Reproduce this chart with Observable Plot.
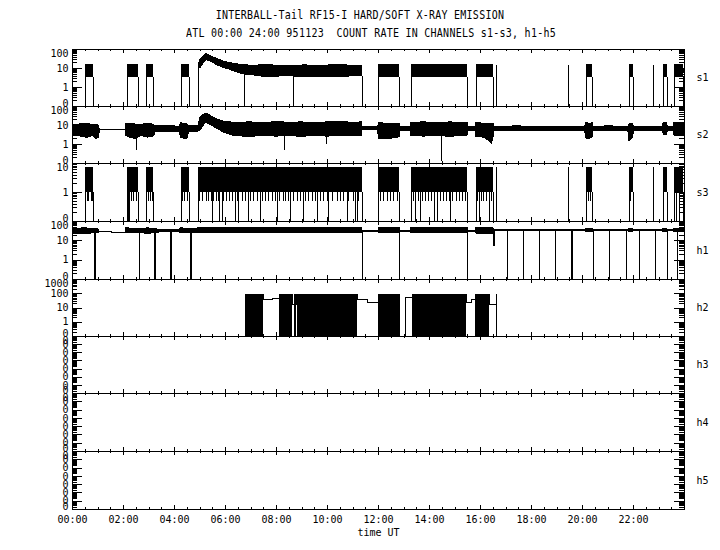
<!DOCTYPE html>
<html>
<head>
<meta charset="utf-8">
<script src="https://cdn.jsdelivr.net/npm/d3@7"></script>
<script src="https://cdn.jsdelivr.net/npm/@observablehq/plot@0.6"></script>
<style>
  html, body { margin: 0; padding: 0; background: #fff; }
  #fig { position: relative; width: 720px; height: 550px; overflow: hidden; background: #fff; color: #000;
         font-family: "DejaVu Sans Mono", monospace; }
  .ttl { position: absolute; left: 0; width: 720px; text-align: center; font-size: 10px; line-height: 12px;
         letter-spacing: 0.25px; white-space: pre; transform: scaleY(1.3); }
  #fig svg { position: absolute; left: 0; }
</style>
</head>
<body>
<div id="fig">
  <div class="ttl" id="title" style="top:9px"></div>
  <div class="ttl" id="subtitle" style="top:27px; padding-left:22px; width:698px;"></div>
</div>
<script>
// ---------- text ----------
const titleText = "INTERBALL-Tail RF15-I HARD/SOFT X-RAY EMISSION";
const subtitleText = "ATL 00:00 24:00 951123  COUNT RATE IN CHANNELS s1-s3, h1-h5";
const xLabelText = "time UT";

// ---------- axes ----------
const panelNames = ["s1", "s2", "s3", "h1", "h2", "h3", "h4", "h5"];
const panelDomains = [[0.1, 100], [0.1, 100], [0.1, 10], [0.1, 100], [0.1, 1000], [1e-8, 0.1], [1e-8, 0.1], [1e-8, 0.1]];
const majorHours = [0, 2, 4, 6, 8, 10, 12, 14, 16, 18, 20, 22];
const majorLabels = ["00:00", "02:00", "04:00", "06:00", "08:00", "10:00", "12:00", "14:00", "16:00", "18:00", "20:00", "22:00"];
const minorHours = [0.5, 1, 1.5, 2.5, 3, 3.5, 4.5, 5, 5.5, 6.5, 7, 7.5, 8.5, 9, 9.5, 10.5, 11, 11.5, 12.5, 13, 13.5,
  14.5, 15, 15.5, 16.5, 17, 17.5, 18.5, 19, 19.5, 20.5, 21, 21.5, 22.5, 23, 23.5];

// ---------- s1 ----------
const s1Level = [3.3, 16];
const s1Blocks = [[0.51, 0.84], [2.17, 2.60], [2.90, 3.19], [4.26, 4.58], [12.01, 12.84], [13.29, 15.50],
  [15.83, 16.52], [20.15, 20.40], [21.84, 21.99], [23.19, 23.32], [23.61, 23.96]];
const s1Flare = [[4.95, 10, 15], [5.02, 10.5, 28], [5.15, 20, 46], [5.25, 28, 56], [5.41, 24, 46], [5.54, 19, 38],
  [5.67, 15, 32], [5.93, 10.5, 23], [6.2, 8.5, 19], [6.33, 7, 18], [6.59, 5.5, 15.5], [6.85, 4.6, 14.5],
  [7.11, 4.3, 14], [7.6, 3.5, 15], [8.16, 3.8, 13.8], [8.6, 3.9, 13.5], [9.1, 3.4, 14.5], [9.8, 3.7, 13.8],
  [10.3, 3.5, 15], [10.9, 3.8, 14.2], [11.36, 3.8, 14]];
const s1Spikes = [6.76, 8.68, 16.63, 19.46, 22.77];

// ---------- s2 ----------
const s2Env = [
  [0.03, 3.0, 10.5], [0.35, 2.6, 11.5], [0.6, 2.2, 12.5], [0.8, 2.9, 10], [0.95, 1.9, 11], [1.05, 2.4, 9],
  [1.07, 5.8, 5.8], [2.08, 5.8, 5.8],
  [2.09, 2.8, 11.5], [2.3, 2.2, 12.5], [2.5, 1.9, 11], [2.7, 2.9, 10.5], [2.95, 2.3, 12.5], [3.2, 2.7, 11],
  [3.25, 4.4, 9.1], [4.2, 4.6, 8.8],
  [4.26, 2.1, 13], [4.5, 2.0, 12], [4.58, 4.4, 9], [4.94, 4.8, 9.5],
  [5.02, 5.5, 25.7], [5.15, 10, 36], [5.25, 14, 42], [5.4, 11, 33], [5.54, 8.5, 26], [5.75, 6, 19],
  [5.93, 4.2, 16], [6.33, 2.8, 14], [7.0, 2.5, 14.5], [7.5, 2.9, 13.5], [8.0, 2.6, 15], [8.5, 2.8, 14],
  [9.0, 2.5, 14.5], [9.5, 2.9, 13.5], [10.0, 2.6, 14.5], [10.5, 2.8, 15], [11.0, 2.7, 14], [11.35, 2.8, 14.5],
  [11.37, 5.5, 8.2], [11.99, 5.5, 8.2],
  [12.01, 2.0, 13], [12.4, 1.9, 12.5], [12.83, 2.4, 12],
  [12.85, 5.4, 8.4], [13.28, 5.4, 8.4],
  [13.29, 2.8, 14], [13.8, 2.6, 14.5], [14.3, 2.9, 13.5], [14.8, 2.5, 14.5], [15.2, 2.8, 14], [15.49, 2.7, 14],
  [15.5, 5.4, 8.5], [15.8, 5.4, 8.5],
  [15.83, 2.6, 13], [16.2, 2.2, 12.5], [16.45, 1.05, 12], [16.52, 2.5, 12],
  [16.55, 5.2, 8.7], [17.5, 5.0, 8.9], [18.5, 5.3, 8.5], [19.5, 5.1, 8.8], [20.1, 5.2, 8.7],
  [20.15, 2.1, 14], [20.28, 1.9, 12], [20.4, 2.4, 13],
  [20.42, 5.2, 8.7], [21.0, 5.0, 8.9], [21.8, 5.2, 8.7],
  [21.84, 1.55, 11.5], [21.99, 2.2, 12],
  [22.01, 5.2, 8.7], [23.15, 5.1, 8.8],
  [23.19, 3.2, 14], [23.32, 3.3, 13],
  [23.34, 5.2, 8.7], [23.58, 5.2, 8.7],
  [23.61, 2.9, 14], [23.99, 3.0, 13]
];
const s2Spikes = [[2.52, 0.47], [8.33, 0.47], [9.95, 1.04], [14.47, 0.12]];

// ---------- s3 ----------
const s3Level = [1, 7.4];
const s3Blocks = [[0.51, 0.84], [2.17, 2.60], [2.90, 3.19], [4.26, 4.58], [4.95, 11.36], [12.01, 12.84],
  [13.29, 15.50], [15.83, 16.52], [20.15, 20.40], [21.84, 21.99], [23.19, 23.32], [23.61, 23.96]];
const s3Spikes = [16.63, 19.46, 22.77];
const s3HalfDips = [0.58, 0.64, 0.73, 0.79, 2.33, 2.41, 2.5, 2.97, 3.05, 3.12, 4.33, 4.41, 4.50,
  4.99, 5.09, 5.25, 5.34, 5.44, 5.54, 5.65, 5.74, 5.93, 6.04, 6.17, 6.26, 6.46, 6.65, 6.78, 6.98, 7.11, 7.24,
  7.44, 7.57, 7.70, 7.83, 7.96, 8.13, 8.26, 8.35, 8.48, 8.68, 8.81, 8.94, 9.14, 9.27, 9.40, 9.53, 9.72, 9.85,
  9.99, 10.18, 10.38, 10.51, 10.64, 10.84, 11.03, 11.23,
  12.08, 12.21, 12.34, 12.47, 12.60, 12.73,
  13.36, 13.47, 13.58, 13.72, 13.83, 13.95, 14.06, 14.19, 14.30, 14.44, 14.56, 14.67, 14.79, 14.92, 15.04,
  15.16, 15.28, 15.41, 15.90, 16.02, 16.13, 16.25, 16.44, 20.22, 20.31, 21.9];
const s3ZeroDips = [2.18, 2.24, 5.48, 5.78, 5.87, 6.39, 6.52, 6.91, 7.37, 8.03, 8.55, 9.07, 9.60, 10.05, 10.77,
  11.10, 11.17, 13.45, 13.65, 14.21, 14.33, 14.82, 15.96, 16.36, 23.7, 23.8];

// ---------- h1 ----------
const h1Env = [
  [0, 24, 42], [0.5, 23, 44], [1.02, 25, 40],
  [1.03, 29, 29], [1.55, 29, 29], [1.56, 25.7, 25.7], [2.08, 25.7, 25.7],
  [2.09, 24, 44], [2.6, 25, 42], [3.0, 23, 44], [3.5, 28, 36], [4.2, 27, 38], [4.26, 24, 44], [4.6, 25, 42],
  [5.0, 24, 44], [6, 24, 45], [7, 25, 44], [8, 24, 45], [9, 25, 44], [10, 24, 46], [11.36, 24, 45],
  [11.37, 29, 34], [12.0, 29, 34], [12.01, 24, 45], [12.84, 24, 45], [12.85, 29, 34], [13.28, 29, 34],
  [13.29, 24, 46], [15.5, 24, 45], [15.51, 29, 34], [15.82, 29, 34], [15.83, 24, 45], [16.5, 22, 45],
  [16.55, 31, 37], [20.1, 31, 37], [20.15, 27, 42], [20.4, 27, 42], [20.42, 31, 37], [21.8, 31, 37],
  [21.84, 28, 41], [21.99, 28, 41], [22.01, 31, 37], [23.15, 31, 37], [23.19, 27, 42], [23.32, 28, 41],
  [23.34, 31, 37], [23.58, 31, 37], [23.61, 27, 42], [24, 28, 41]
];
const h1Drops = [2.64, 11.38, 12.84, 15.50, 17.07, 17.70, 18.33, 18.95, 20.44, 21.07, 21.71, 22.24, 22.86, 23.32, 23.74];
const h1WideDrops = [0.90, 3.25, 3.88, 4.65, 19.60];
const h1Dip = [[16.52, 5.2]];

// ---------- h2 ----------
const h2Steps = [[6.78, 0], [6.78, 95], [7.48, 37.5], [7.83, 49], [8.13, 95], [8.62, 16.8], [8.71, 95],
  [8.77, 16.8], [8.84, 95], [11.16, 42], [11.56, 26], [12.01, 95], [12.81, 0], [13.06, 52], [13.32, 95],
  [15.45, 26], [15.64, 37.5], [15.82, 95], [16.34, 16.8], [16.63, 83], [16.63, 0]];

// ---------- drawing ----------
document.getElementById("title").textContent = titleText;
document.getElementById("subtitle").textContent = subtitleText;

const X0 = 72, X1 = 684, W = 720, PW = X1 - X0;
const frameRows = [49, 106, 163, 221, 279, 336, 393, 451, 509];
const crisp = "crispEdges";
const fig = document.getElementById("fig");

function blockMarks(blocks, level, y) {
  return [
    Plot.rect(blocks, {x1: d => d[0], x2: d => d[1], y1: () => level[0], y2: () => level[1], fill: "black", shapeRendering: crisp}),
    Plot.ruleX(blocks.flat(), {x: d => d, y1: () => y(0), y2: () => level[0], stroke: "black", shapeRendering: crisp})
  ];
}
function envMarks(env, y) {
  return [
    Plot.areaY(env, {x: d => d[0], y1: d => y(d[1]), y2: d => y(d[2]), fill: "black", stroke: "black", strokeWidth: 1, shapeRendering: crisp}),
    Plot.line(env, {x: d => d[0], y: d => Math.sqrt(d[1] * d[2]), stroke: "black", strokeWidth: 1, shapeRendering: crisp})
  ];
}

const panelMarks = [
  // s1
  (y) => [
    ...blockMarks(s1Blocks, s1Level, y),
    Plot.areaY(s1Flare, {x: d => d[0], y1: d => d[1], y2: d => d[2], fill: "black", stroke: "black", strokeWidth: 1, shapeRendering: crisp}),
    Plot.ruleX([s1Flare[0], s1Flare[s1Flare.length - 1]], {x: d => d[0], y1: () => y(0), y2: d => d[1], stroke: "black", shapeRendering: crisp}),
    Plot.ruleX(s1Spikes, {x: d => d, y1: () => y(0), y2: () => s1Level[1] * 0.9, stroke: "black", shapeRendering: crisp})
  ],
  // s2
  (y) => [
    ...envMarks(s2Env, y),
    Plot.ruleX(s2Spikes, {x: d => d[0], y1: d => y(d[1]), y2: () => 6, stroke: "black", shapeRendering: crisp})
  ],
  // s3
  (y) => [
    ...blockMarks(s3Blocks, s3Level, y),
    Plot.ruleX(s3HalfDips, {x: d => d, y1: () => 0.5, y2: () => s3Level[0], stroke: "black", shapeRendering: crisp}),
    Plot.ruleX(s3ZeroDips, {x: d => d, y1: () => y(0), y2: () => s3Level[0], stroke: "black", shapeRendering: crisp}),
    Plot.ruleX(s3Spikes, {x: d => d, y1: () => y(0), y2: () => s3Level[1], stroke: "black", shapeRendering: crisp})
  ],
  // h1
  (y) => [
    ...envMarks(h1Env, y),
    Plot.ruleX(h1Drops, {x: d => d, y1: () => y(0), y2: () => 32, stroke: "black", shapeRendering: crisp}),
    Plot.ruleX(h1WideDrops, {x: d => d, y1: () => y(0), y2: () => 32, stroke: "black", strokeWidth: 2, shapeRendering: crisp}),
    Plot.ruleX(h1Dip, {x: d => d[0], y1: d => d[1], y2: () => 32, stroke: "black", strokeWidth: 2, shapeRendering: crisp})
  ],
  // h2
  (y) => {
    const blocks = [];
    h2Steps.forEach((d, i) => { if (d[1] >= 90 && i + 1 < h2Steps.length) blocks.push([d[0], h2Steps[i + 1][0], d[1]]); });
    return [
      Plot.rect(blocks, {x1: d => d[0], x2: d => d[1], y1: () => y(0), y2: d => d[2], fill: "black", shapeRendering: crisp}),
      Plot.line(h2Steps, {x: d => d[0], y: d => y(d[1]), curve: "step-after", stroke: "black", strokeWidth: 1, shapeRendering: crisp})
    ];
  },
  () => [], () => [], () => []
];

panelNames.forEach((name, i) => {
  const dom = panelDomains[i];
  const y = v => Math.max(v, dom[0]);
  const H = frameRows[i + 1] - frameRows[i];
  const last = i === panelNames.length - 1;
  const mt = 20, mb = last ? 45 : 20;
  const e0 = Math.round(Math.log10(dom[0])), e1 = Math.round(Math.log10(dom[1]));
  const decades = d3.range(e0, e1 + 1).map(e => Math.pow(10, e));
  const minors = d3.scaleLog().domain(dom).ticks()
    .filter(t => Math.abs(Math.log10(t) - Math.round(Math.log10(t))) > 1e-6);
  const fmt = v => v < 1 ? "0" : String(Math.round(v));
  const ylab = (vals, anchor) => Plot.text(vals, {y: d => d, frameAnchor: "left", dx: -4, textAnchor: "end", lineAnchor: anchor, text: fmt, fill: "black"});

  const marks = [
    ...panelMarks[i](y),
    Plot.tickY(decades, {y: d => d, insetRight: PW - 10, stroke: "black", shapeRendering: crisp}),
    Plot.tickY(decades, {y: d => d, insetLeft: PW - 10, stroke: "black", shapeRendering: crisp}),
    Plot.tickY(minors, {y: d => d, insetRight: PW - 5, stroke: "black", shapeRendering: crisp}),
    Plot.tickY(minors, {y: d => d, insetLeft: PW - 5, stroke: "black", shapeRendering: crisp}),
    Plot.tickX(majorHours.slice(1), {x: d => d, insetBottom: H - 4, stroke: "black", shapeRendering: crisp}),
    Plot.tickX(majorHours.slice(1), {x: d => d, insetTop: H - 4, stroke: "black", shapeRendering: crisp}),
    Plot.tickX(minorHours, {x: d => d, insetBottom: H - 2, stroke: "black", shapeRendering: crisp}),
    Plot.tickX(minorHours, {x: d => d, insetTop: H - 2, stroke: "black", shapeRendering: crisp}),
    Plot.frame({stroke: "black", shapeRendering: crisp}),
    ylab([decades[0]], "bottom"),
    ylab(decades.slice(1, -1), "middle"),
    ylab([decades[decades.length - 1]], "top"),
    Plot.text([name], {text: d => d, frameAnchor: "right", dx: 18, textAnchor: "middle", fill: "black"})
  ];
  if (last) {
    marks.push(
      Plot.text(majorHours, {x: d => d, frameAnchor: "bottom", lineAnchor: "top", dy: 6, text: (d, j) => majorLabels[j], fill: "black"}),
      Plot.text([xLabelText], {text: d => d, frameAnchor: "bottom", lineAnchor: "top", dy: 19, fill: "black"})
    );
  }
  const svg = Plot.plot({
    width: W, height: H + mt + mb,
    marginLeft: X0, marginRight: W - X1, marginTop: mt, marginBottom: mb,
    x: {domain: [0, 24], axis: null},
    y: {type: "log", domain: dom, axis: null},
    style: {background: "transparent", fontFamily: "DejaVu Sans Mono, monospace", fontSize: "10px", color: "black", overflow: "visible"},
    marks
  });
  svg.style.top = (frameRows[i] - mt) + "px";
  fig.appendChild(svg);
});
</script>
</body>
</html>
